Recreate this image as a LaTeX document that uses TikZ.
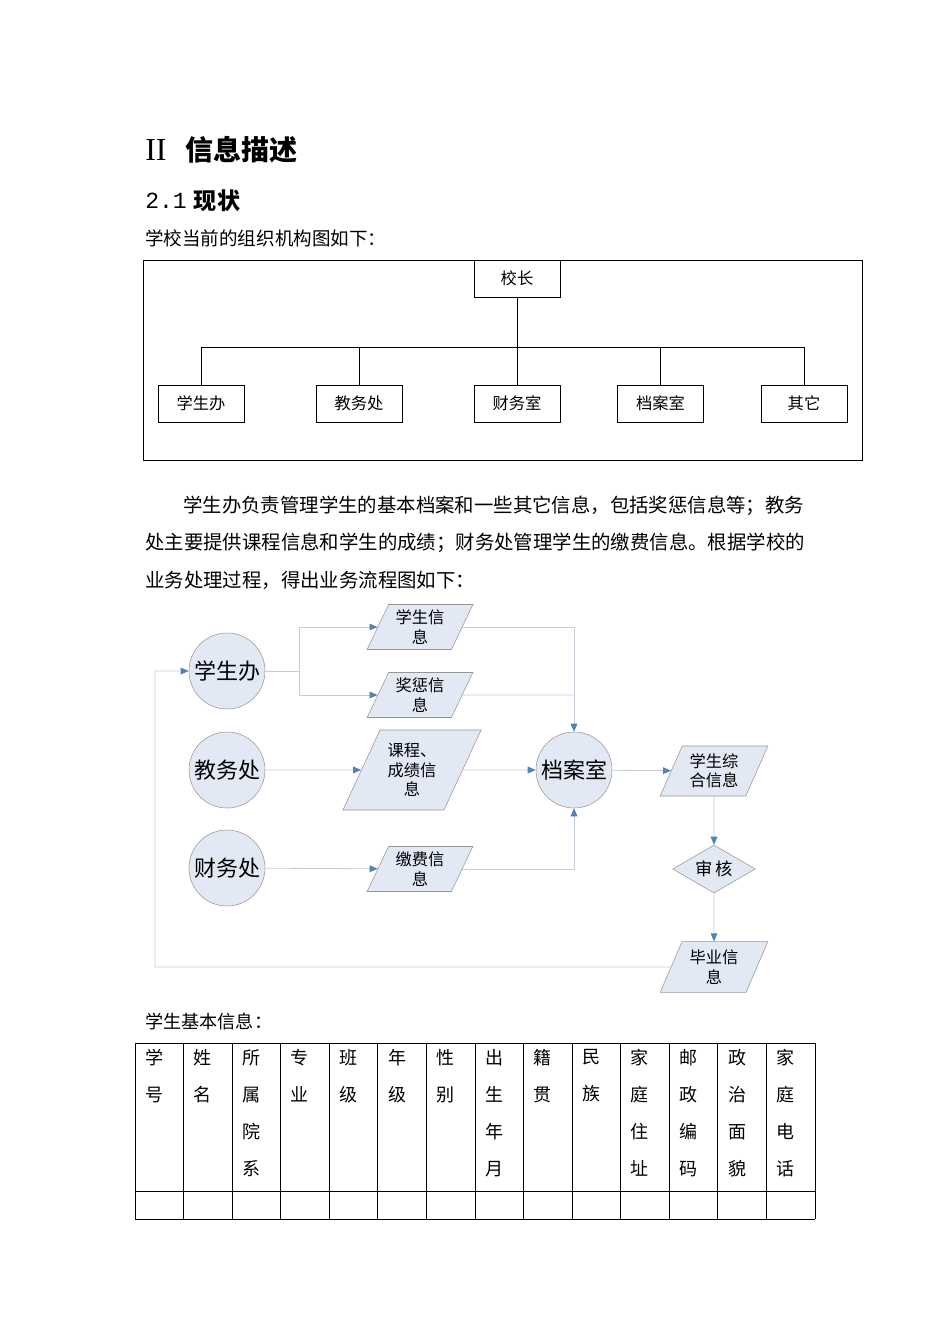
\documentclass[tikz,border=0pt]{standalone}
\usepackage{fontspec}
\setmainfont{Noto Sans CJK SC}
\newfontfamily\latin{Liberation Mono}
\newfontfamily\latinserif{Liberation Serif}
\usepackage{xcolor}
\usetikzlibrary{arrows.meta,positioning,shapes.geometric}
\definecolor{fillb}{RGB}{226,232,244}
\definecolor{edgeg}{RGB}{150,150,150}
\definecolor{flowl}{RGB}{198,204,216}
\definecolor{tipb}{RGB}{79,129,189}

\begin{document}
\begin{tikzpicture}[x=0.75pt,y=-0.75pt,>={Triangle[length=6pt,width=5pt,color=tipb]}]
\tikzstyle{box}=[draw,line width=0.7pt,minimum width=64.5pt,minimum height=27.75pt,inner sep=0pt,font=\fontsize{12.2}{14}\selectfont]
\tikzstyle{c}=[circle,draw=edgeg,fill=fillb,minimum size=57pt,inner sep=0pt,font=\fontsize{16.5}{20}\selectfont]
\tikzstyle{p}=[trapezium,trapezium left angle=64,trapezium right angle=116,trapezium stretches=true,draw=edgeg,fill=fillb,inner sep=0pt,minimum width=79.5pt,minimum height=33.75pt,align=center,font=\fontsize{12.2}{14.6}\selectfont]
\tikzstyle{fl}=[draw=flowl,line width=0.6pt]
\tikzstyle{txt}=[anchor=west,inner sep=0pt]
\fill[white] (0,0) rectangle (950,1344);
\useasboundingbox (0,0) rectangle (950,1344);

\node[txt,font=\fontsize{24}{26}\selectfont] (h1) at (145,150) {\latinserif II};
\node[txt,font=\fontsize{21}{24}\selectfont\bfseries,right=14pt of h1] (h1t) {信息描述};
\node[txt,font=\fontsize{17.3}{20}\selectfont] (h2) at (145,201) {\latin 2.1};
\node[txt,font=\fontsize{17.3}{20}\selectfont\bfseries,right=5pt of h2] (h2t) {现状};
\node[txt,font=\fontsize{13.9}{16}\selectfont] (t1) at (145,238) {学校当前的组织机构图如下：};

\draw[line width=0.7pt] (143,260) rectangle (862,460);
\node[box] (zz) at (517,278.5) {校长};
\node[box] (b1) at (201,403.5) {学生办};
\node[box] (b2) at (359,403.5) {教务处};
\node[box] (b3) at (517,403.5) {财务室};
\node[box] (b4) at (660.5,403.5) {档案室};
\node[box] (b5) at (804,403.5) {其它};
\coordinate (bus) at (517,347);
\draw[line width=0.7pt] (zz) -- (bus);
\foreach \n in {b1,b2,b3,b4,b5}
  \draw[line width=0.7pt] (\n.north) |- (bus);

\node[txt,font=\fontsize{14.55}{16}\selectfont] (p1) at (183,506) {学生办负责管理学生的基本档案和一些其它信息，包括奖惩信息等；教务};
\node[txt,font=\fontsize{14.55}{16}\selectfont] (p2) at (145,543) {处主要提供课程信息和学生的成绩；财务处管理学生的缴费信息。根据学校的};
\node[txt,font=\fontsize{14.55}{16}\selectfont] (p3) at (145,580) {业务处理过程，得出业务流程图如下：};

\node[c] (xsb) at (227,671) {学生办};
\node[c] (jwc) at (227,770) {教务处};
\node[c] (cwc) at (227,868) {财务处};
\node[c] (das) at (574,770) {档案室};
\node[p] (xsxx) at (420,627) {学生信\\息};
\node[p] (jcxx) at (420,695) {奖惩信\\息};
\node[p,minimum width=104pt,minimum height=60pt,trapezium left angle=62,trapezium right angle=118] (kc) at (412,770) {课程、\\成绩信\\息};
\node[p] (jf) at (420,869) {缴费信\\息};
\node[p,minimum width=81pt,minimum height=37.5pt] (zh) at (714,771) {学生综\\合信息};
\node[diamond,draw=edgeg,fill=fillb,aspect=1.73,minimum width=62pt,minimum height=36pt,inner sep=0pt,font=\fontsize{13}{15}\selectfont] (sh) at (714,869) {审\hspace{2pt}核};
\node[p,minimum width=81pt,minimum height=38pt] (by) at (714,967) {毕业信\\息};

\coordinate (j1) at (299,671);
\coordinate (lp) at (155,967);
\draw[fl] (xsb) -- (j1);
\draw[fl,->] (j1) |- (xsxx);
\draw[fl,->] (j1) |- (jcxx);
\draw[fl,->] (xsxx) -| (das);
\draw[fl] (jcxx) -- (jcxx -| das);
\draw[fl,->] (jwc) -- (kc);
\draw[fl,->] (kc) -- (das);
\draw[fl,->] (cwc) -- (jf);
\draw[fl,->] (jf) -| (das);
\draw[fl,->] (das) -- (zh);
\draw[fl,->] (zh) -- (sh);
\draw[fl,->] (sh) -- (by);
\draw[fl,->] (by) -- (lp) |- (xsb);

\node[txt,font=\fontsize{13.6}{16}\selectfont] (t2) at (145,1022) {学生基本信息：};
\foreach \y in {1043,1191,1219}
  \draw[line width=0.6pt] (135,\y) -- (815,\y);
\foreach \i in {0,...,14}
  \draw[line width=0.6pt] (135+\i*48.57,1043) -- (135+\i*48.57,1219);
\foreach \t [count=\i from 0] in {{学\\号},{姓\\名},{所\\属\\院\\系},{专\\业},{班\\级},{年\\级},{性\\别},{出\\生\\年\\月},{籍\\贯},{民\\族},{家\\庭\\住\\址},{邮\\政\\编\\码},{政\\治\\面\\貌},{家\\庭\\电\\话}}
  \node[anchor=north west,align=left,inner sep=0pt,font=\fontsize{13.5}{27.75}\selectfont] (col\i) at (145+\i*48.57,1049) {\t};
\end{tikzpicture}
\end{document}
